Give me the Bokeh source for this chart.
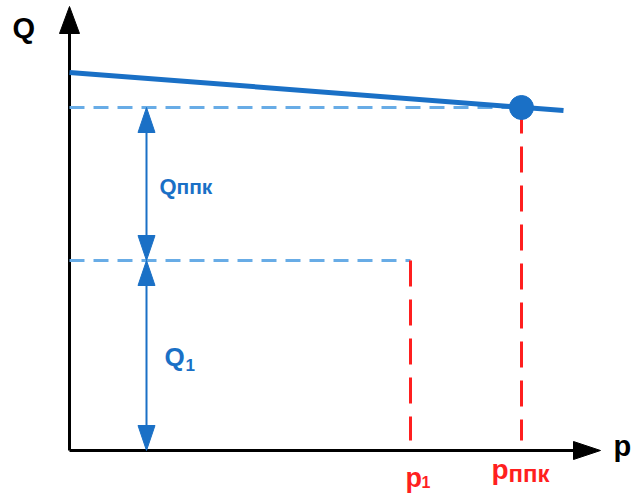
from bokeh.plotting import figure
from bokeh.models import Range1d
from bokeh.core.properties import value
from bokeh.embed import file_html
from bokeh.resources import INLINE

# ---- data (in chart units: p to the right, Q upward) ----
p_axis_end = 531
Q_axis_end = 444
curve_p = [0, 494]
curve_Q = [378, 340]
p_op = 452           # p_ппк
Q_op = 343           # Q at operating point
p1 = 341
Q1 = 190
arrow_p = 77
red_bottom = 10

axis_labels = ["Q", "p"]
q_labels = ["Q", "ппк", "Q", "1"]
p_labels = ["p", "1", "p", "ппк"]

BLUE = "#1a70c6"
LIGHT = "#68ace6"
RED = "#ff1f1f"
FONT = value("Liberation Sans")

p = figure(width=644, height=498, output_backend="svg", toolbar_location=None,
           x_range=Range1d(-69, 575), y_range=Range1d(-48, 450),
           x_axis_location=None, y_axis_location=None, min_border=0)
p.grid.visible = False
p.outline_line_color = None
p.background_fill_color = "white"
p.border_fill_color = "white"


def head(tip_x, tip_y, dx, dy, length, half):
    # triangle with tip at (tip_x, tip_y) pointing in direction (dx, dy)
    bx, by = tip_x - dx * length, tip_y - dy * length
    nx, ny = -dy, dx
    return ([tip_x, bx + nx * half, bx - nx * half],
            [tip_y, by + ny * half, by - ny * half])

# axes
ax_len = 27
p.line([0, 0], [0, Q_axis_end - ax_len + 2], line_color="black", line_width=3)
p.line([0, p_axis_end - ax_len + 2], [0, 0], line_color="black", line_width=3)
hx1, hy1 = head(0, Q_axis_end, 0, 1, ax_len, 10)
hx2, hy2 = head(p_axis_end, 0, 1, 0, ax_len, 9)
p.patches([hx1, hx2], [hy1, hy2], fill_color="black", line_color="black", line_width=1)

# dashed guides
p.line([0, p_op], [Q_op, Q_op], line_color=LIGHT, line_width=3, line_dash="15 9")
p.line([0, p1], [Q1, Q1], line_color=LIGHT, line_width=3, line_dash="15 9")
p.line([p1, p1], [Q1, red_bottom], line_color=RED, line_width=3, line_dash="26 13")
p.line([p_op, p_op], [Q_op, red_bottom], line_color=RED, line_width=3, line_dash="26 13")

# curve and operating point
p.line(curve_p, curve_Q, line_color=BLUE, line_width=5)
p.scatter([p_op], [Q_op], size=24, fill_color=BLUE, line_color=BLUE)

# double-headed arrows
hl, hw = 25, 8.5
p.segment(x0=[arrow_p, arrow_p], y0=[Q_op - hl, Q1 - hl], x1=[arrow_p, arrow_p],
          y1=[Q1 + hl, 0 + hl], line_color=BLUE, line_width=2)
heads = [head(arrow_p, Q_op, 0, 1, hl, hw), head(arrow_p, Q1, 0, -1, hl, hw),
         head(arrow_p, Q1, 0, 1, hl, hw), head(arrow_p, 0, 0, -1, hl, hw)]
p.patches([h[0] for h in heads], [h[1] for h in heads], fill_color=BLUE,
          line_color=BLUE, line_width=1)

# axis labels
p.text(x=[-57], y=[423], text=[axis_labels[0]], text_font=FONT,
       text_font_style="bold", text_font_size="29px", text_color="black",
       text_baseline="alphabetic")
p.text(x=[544], y=[5], text=[axis_labels[1]], text_font=FONT,
       text_font_style="bold", text_font_size="29px", text_color="black",
       text_baseline="alphabetic")

# Q labels
p.text(x=[90], y=[264], text=[q_labels[0]], text_font=FONT, text_font_style="bold",
       text_font_size="22px", text_color=BLUE, text_baseline="alphabetic")
p.text(x=[107], y=[264], text=[q_labels[1]], text_font=FONT, text_font_style="bold",
       text_font_size="21px", text_color=BLUE, text_baseline="alphabetic")
p.text(x=[95], y=[94], text=[q_labels[2]], text_font=FONT, text_font_style="bold",
       text_font_size="26px", text_color=BLUE, text_baseline="alphabetic")
p.text(x=[116], y=[86], text=[q_labels[3]], text_font=FONT, text_font_style="bold",
       text_font_size="17px", text_color=BLUE, text_baseline="alphabetic")

# p labels
p.text(x=[p1 - 5], y=[-27], text=[p_labels[0]], text_font=FONT, text_font_style="bold",
       text_font_size="27px", text_color=RED, text_baseline="alphabetic")
p.text(x=[p1 + 11], y=[-31], text=[p_labels[1]], text_font=FONT, text_font_style="bold",
       text_font_size="16px", text_color=RED, text_baseline="alphabetic")
p.text(x=[p_op - 30], y=[-19], text=[p_labels[2]], text_font=FONT, text_font_style="bold",
       text_font_size="28px", text_color=RED, text_baseline="alphabetic")
p.text(x=[p_op - 13], y=[-23], text=[p_labels[3]], text_font=FONT, text_font_style="bold",
       text_font_size="24px", text_color=RED, text_baseline="alphabetic")

open("out.html", "w").write(file_html(p, INLINE))
